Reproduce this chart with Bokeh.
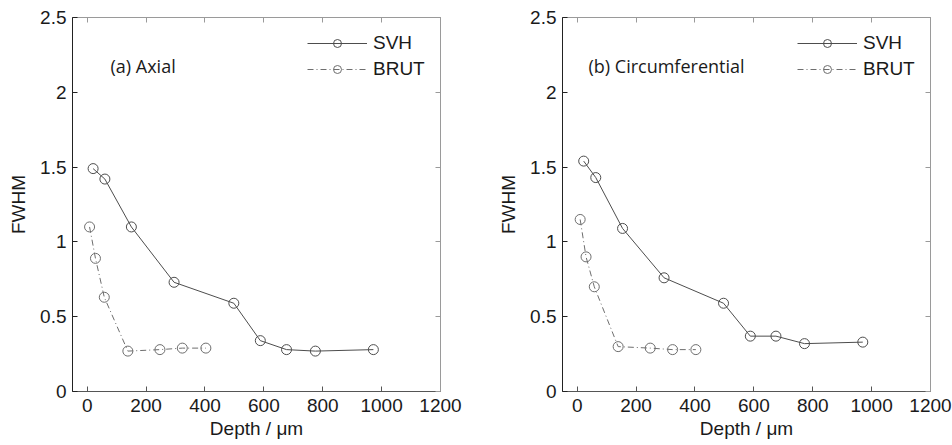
from bokeh.plotting import figure
from bokeh.layouts import row
from bokeh.models import LinearAxis, FixedTicker, Range1d, Label, Legend, LegendItem
from bokeh.embed import file_html
from bokeh.resources import INLINE

# Depth (um) and FWHM values for each scan direction
axial_svh_depth = [20, 60, 150, 295, 498, 588, 677, 775, 972]
axial_svh_fwhm = [1.49, 1.42, 1.10, 0.73, 0.59, 0.34, 0.28, 0.27, 0.28]
axial_brut_depth = [8, 28, 58, 138, 247, 323, 403]
axial_brut_fwhm = [1.10, 0.89, 0.63, 0.27, 0.28, 0.29, 0.29]

circ_svh_depth = [22, 63, 154, 295, 497, 588, 675, 772, 970]
circ_svh_fwhm = [1.54, 1.43, 1.09, 0.76, 0.59, 0.37, 0.37, 0.32, 0.33]
circ_brut_depth = [10, 30, 58, 139, 248, 324, 403]
circ_brut_fwhm = [1.15, 0.90, 0.70, 0.30, 0.29, 0.28, 0.28]

x_ticks = [0, 200, 400, 600, 800, 1000, 1200]
y_ticks = [0, 0.5, 1, 1.5, 2, 2.5]

TICK_FONT = "Liberation Sans"
SVH_COLOR = "#4d4d4d"
BRUT_COLOR = "#6e6e6e"
TEXT_COLOR = "#1a1a1a"


def mirror_axis(p, side, ticks):
    # unlabeled axis that repeats the inward ticks on the opposite frame edge
    ax = LinearAxis(ticker=FixedTicker(ticks=ticks))
    ax.major_label_text_font_size = "0px"
    ax.major_label_text_color = None
    ax.major_label_standoff = 0
    ax.major_tick_in = 5
    ax.major_tick_out = 0
    ax.minor_tick_line_color = None
    ax.axis_line_color = "#9a9a9a"
    ax.major_tick_line_color = "#9a9a9a"
    p.add_layout(ax, side)


def panel(title, title_x, svh_x, svh_y, brut_x, brut_y, border_left, border_right):
    p = figure(width=476, height=445, output_backend="svg", toolbar_location=None,
               x_range=Range1d(-50, 1200), y_range=Range1d(0, 2.5),
               min_border_left=border_left, min_border_right=border_right,
               min_border_top=17, min_border_bottom=54)
    p.grid.visible = False
    p.outline_line_color = "#9a9a9a"
    p.background_fill_color = "white"
    p.border_fill_color = "white"

    p.xaxis.ticker = FixedTicker(ticks=x_ticks)
    p.yaxis.ticker = FixedTicker(ticks=y_ticks)
    for ax in (p.xaxis[0], p.yaxis[0]):
        ax.major_tick_in = 5
        ax.major_tick_out = 0
        ax.minor_tick_line_color = None
        ax.major_label_text_font = TICK_FONT
        ax.major_label_text_font_size = "19px"
        ax.major_label_text_color = TEXT_COLOR
        ax.axis_label_text_font = TICK_FONT
        ax.axis_label_text_font_size = "19px"
        ax.axis_label_text_font_style = "normal"
        ax.axis_label_text_color = TEXT_COLOR
    p.yaxis.axis_line_color = "#222222"
    p.yaxis.major_tick_line_color = "#222222"
    p.xaxis.axis_line_color = "#555555"
    p.xaxis.major_tick_line_color = "#555555"
    p.xaxis.major_label_standoff = 7
    p.yaxis.major_label_standoff = 6
    p.xaxis.axis_label = "Depth / \u03bcm"
    p.xaxis.axis_label_standoff = 3
    p.yaxis.axis_label = "FWHM"
    p.yaxis.axis_label_standoff = 8

    mirror_axis(p, "right", y_ticks)
    mirror_axis(p, "above", x_ticks)

    l1 = p.line(svh_x, svh_y, line_color=SVH_COLOR, line_width=1)
    c1 = p.scatter(svh_x, svh_y, marker="circle", size=10, fill_color=None,
                   line_color=SVH_COLOR, line_width=1)
    l2 = p.line(brut_x, brut_y, line_color=BRUT_COLOR, line_width=1, line_dash="6 3 1 3")
    c2 = p.scatter(brut_x, brut_y, marker="circle", size=10, fill_color=None,
                   line_color=BRUT_COLOR, line_width=1)

    # legend anchored in frame pixels (left edge, bottom edge)
    legend = Legend(items=[LegendItem(label="SVH", renderers=[l1, c1]),
                           LegendItem(label="BRUT", renderers=[l2, c2])],
                    location=(235, 311), border_line_color=None,
                    background_fill_alpha=0, glyph_width=60, glyph_height=20,
                    label_text_font=TICK_FONT, label_text_font_size="19px",
                    label_text_color=TEXT_COLOR, label_height=20,
                    spacing=4, padding=0, margin=0, label_standoff=6)
    p.add_layout(legend)

    # panel caption, positioned in frame pixels
    p.add_layout(Label(x=title_x, y=326, x_units="screen", y_units="screen",
                       text=title, text_font="Open Sans", text_font_size="18px",
                       text_color=TEXT_COLOR, text_baseline="middle"))
    return p


left = panel("(a) Axial", 38, axial_svh_depth, axial_svh_fwhm,
             axial_brut_depth, axial_brut_fwhm, 72, 36)
right = panel("(b) Circumferential", 26, circ_svh_depth, circ_svh_fwhm,
              circ_brut_depth, circ_brut_fwhm, 86, 22)

layout = row(left, right)
open("out.html", "w").write(file_html(layout, INLINE))
